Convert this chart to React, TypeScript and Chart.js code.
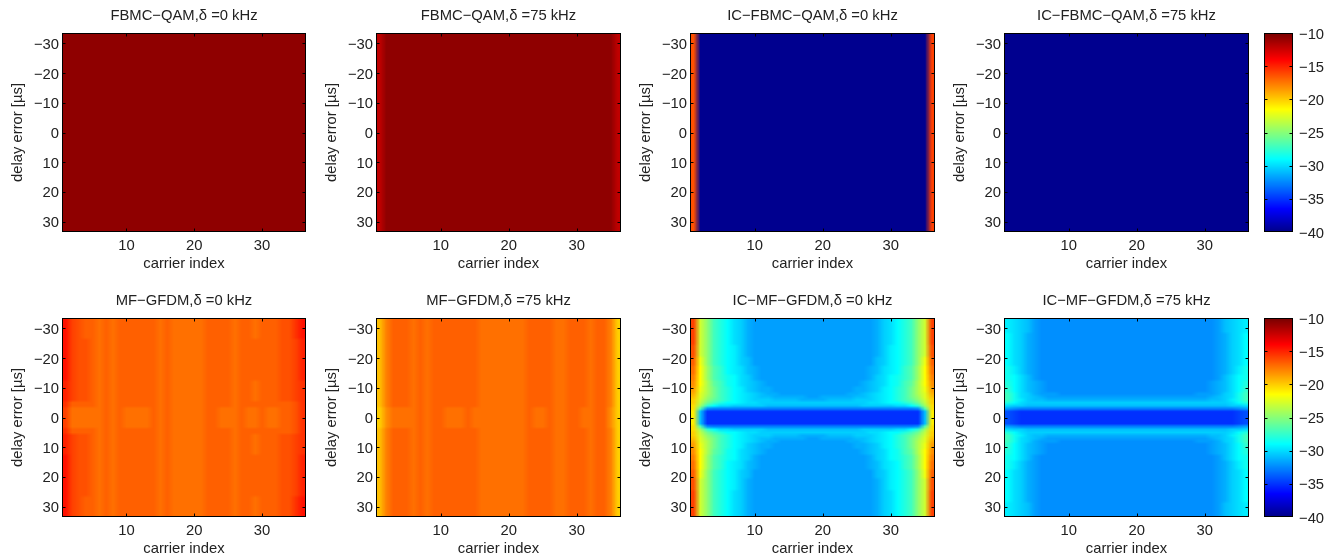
import React, { useEffect, useRef } from "react";
import { Chart, registerables } from "chart.js";

Chart.register(...registerables);

const CARRIERS = Array.from({ length: 36 }, (_, i) => i + 1);
const DELAYS = Array.from({ length: 67 }, (_, i) => i - 33);
const COLOR_LEVELS = Array.from({ length: 64 }, (_, i) => -40 + (i + 0.5) * (30 / 64));

// Each *_BANDS list: a row of the matching table applies to |delay| <= band and > next band.
const BANDS_ALL = [33];
const MF_BANDS = [33, 26, 12, 5, 3];
const IC_BANDS = [33, 28, 24, 20, 17, 14, 12, 10, 8, 7, 6, 5, 4, 3, 2];

const FBMC_0 = [
  [-10.7,-10.7,-10.7,-10.7,-10.7,-10.7,-10.7,-10.7,-10.7,-10.7,-10.7,-10.7,-10.7,-10.7,-10.7,-10.7,-10.7,-10.7,-10.7,-10.7,-10.7,-10.7,-10.7,-10.7,-10.7,-10.7,-10.7,-10.7,-10.7,-10.7,-10.7,-10.7,-10.7,-10.7,-10.7,-10.7],
];
const FBMC_75 = [
  [-12,-10.7,-10.7,-10.7,-10.7,-10.7,-10.7,-10.7,-10.7,-10.7,-10.7,-10.7,-10.7,-10.7,-10.7,-10.7,-10.7,-10.7,-10.7,-10.7,-10.7,-10.7,-10.7,-10.7,-10.7,-10.7,-10.7,-10.7,-10.7,-10.7,-10.7,-10.7,-10.7,-10.7,-10.7,-12],
];
const IC_FBMC_0 = [
  [-16.3,-40,-40,-40,-40,-40,-40,-40,-40,-40,-40,-40,-40,-40,-40,-40,-40,-40,-40,-40,-40,-40,-40,-40,-40,-40,-40,-40,-40,-40,-40,-40,-40,-40,-40,-15.9],
];
const IC_FBMC_75 = [
  [-40,-40,-40,-40,-40,-40,-40,-40,-40,-40,-40,-40,-40,-40,-40,-40,-40,-40,-40,-40,-40,-40,-40,-40,-40,-40,-40,-40,-40,-40,-40,-40,-40,-40,-40,-40],
];
const MF_0 = [
  [-14.3,-15.7,-16.3,-16.6,-16.8,-17.3,-16.8,-17.2,-16.7,-16.7,-16.9,-16.7,-16.7,-16.9,-17.4,-16.9,-17.1,-17.3,-17.4,-17.3,-17.2,-16.9,-16.7,-16.7,-16.9,-17.3,-16.8,-16.7,-17.2,-16.8,-16.7,-16.6,-16.4,-16.3,-15.6,-14.3],
  [-14.6,-15.8,-16.2,-16.5,-16.8,-17.3,-16.8,-17.2,-16.7,-16.7,-16.9,-16.7,-16.7,-16.9,-17.4,-16.9,-17.1,-17.3,-17.4,-17.3,-17.2,-16.9,-16.7,-16.7,-16.9,-17.3,-16.8,-16.7,-16.9,-16.8,-16.7,-16.6,-16.5,-16.3,-15.9,-14.9],
  [-15,-16,-16.2,-16.4,-16.8,-17.3,-16.8,-17.2,-16.7,-16.7,-16.9,-16.7,-16.7,-16.9,-17.4,-16.9,-17.1,-17.3,-17.4,-17.3,-17.2,-16.9,-16.7,-16.7,-16.9,-17.3,-16.8,-16.7,-17.2,-16.8,-16.7,-16.6,-16.3,-16.2,-16,-15.2],
  [-15.6,-16.7,-16.8,-16.8,-16.8,-17.3,-16.8,-17.2,-16.7,-16.8,-16.9,-16.8,-16.8,-16.9,-17.4,-16.9,-17.1,-17.3,-17.4,-17.3,-17.2,-16.9,-16.8,-16.8,-16.9,-17.3,-16.8,-16.8,-16.9,-16.8,-16.8,-16.8,-16.7,-16.7,-16.4,-15.6],
  [-16,-17.3,-17.3,-17.3,-17.3,-17.4,-16.9,-17.3,-16.9,-17.3,-17.3,-17.3,-17.3,-16.9,-17.4,-16.9,-17.3,-17.4,-17.4,-17.3,-17.2,-16.9,-16.9,-17.3,-17.3,-17.3,-16.9,-17.3,-17.3,-16.9,-17.3,-17.3,-16.9,-16.8,-16.3,-15.5],
];
const MF_75 = [
  [-19.8,-17.6,-16.7,-16.7,-16.8,-17.3,-16.8,-17.2,-16.7,-16.7,-16.8,-16.9,-16.8,-16.8,-16.9,-17.3,-17.1,-17.3,-17.4,-17.4,-17.3,-17.2,-16.9,-16.8,-16.7,-16.8,-17.2,-17.2,-16.8,-16.7,-16.9,-17.2,-16.8,-16.8,-17.8,-20],
  [-19.8,-17.6,-16.7,-16.7,-16.8,-17.3,-16.8,-17.2,-16.7,-16.7,-16.8,-16.9,-16.8,-16.8,-16.9,-17.3,-17.1,-17.3,-17.4,-17.4,-17.3,-17.2,-16.9,-16.8,-16.7,-16.8,-17.2,-17.2,-16.8,-16.7,-16.9,-17.2,-16.8,-16.8,-17.8,-20],
  [-19.8,-17.6,-16.7,-16.7,-16.8,-17.3,-16.8,-17.2,-16.7,-16.7,-16.8,-16.9,-16.8,-16.8,-16.9,-17.3,-17.1,-17.3,-17.4,-17.4,-17.3,-17.2,-16.9,-16.8,-16.7,-16.8,-17.2,-17.2,-16.8,-16.7,-16.9,-17.2,-16.8,-16.8,-17.8,-20],
  [-19.8,-17.8,-16.9,-16.9,-16.9,-17.3,-16.8,-17.2,-16.8,-16.8,-16.8,-16.9,-16.8,-16.8,-16.9,-17.3,-17.1,-17.3,-17.4,-17.4,-17.3,-17.2,-16.9,-16.8,-16.8,-16.8,-17.2,-17.2,-16.8,-16.8,-16.9,-17.2,-16.8,-16.8,-17.8,-20],
  [-20.2,-18,-17.3,-17.3,-17.3,-17.4,-16.9,-17.2,-16.8,-16.9,-17.3,-17.3,-17.3,-16.9,-17.1,-17.3,-17.3,-17.3,-17.4,-17.4,-17.3,-17.2,-16.9,-17.3,-17.3,-16.9,-17.2,-17.2,-16.9,-16.9,-17.3,-17.3,-16.9,-16.9,-18,-20.2],
];
const IC_MF_0_HALF = [
  [-15.8,-23,-25,-27,-28,-29,-29.7,-30.5,-31.3,-31.7,-31.9,-32,-32,-32,-32,-32,-32,-32],
  [-16,-23,-25,-27,-28,-29,-29.7,-30.6,-31.4,-31.8,-32,-32,-32,-32,-32,-32,-32,-32],
  [-16.3,-22.8,-25,-27,-28,-29,-29.6,-30.5,-31.3,-31.8,-32,-32,-32,-32,-32,-32,-32,-32],
  [-16.8,-22,-24.6,-27,-28,-28.9,-29.4,-30.2,-31,-31.6,-31.9,-32,-32,-32,-32,-32,-32,-32],
  [-17.2,-21.6,-24.3,-26.8,-27.8,-28.8,-29.3,-30,-30.8,-31.4,-31.8,-32,-32,-32,-32,-32,-32,-32],
  [-17.8,-21.5,-24.2,-26.5,-27.6,-28.6,-29.2,-29.9,-30.6,-31.2,-31.6,-31.9,-32,-32,-32,-32,-32,-32],
  [-18.2,-21.7,-24,-26.2,-27.3,-28.3,-29.1,-29.8,-30.4,-31,-31.4,-31.7,-31.9,-32,-32,-32,-32,-32],
  [-18.8,-22,-23.8,-25.7,-27,-28,-29,-29.6,-30.2,-30.8,-31.2,-31.5,-31.7,-31.8,-31.9,-32,-32,-32],
  [-19.3,-22.2,-24,-25.6,-26.9,-27.9,-28.9,-29.5,-30.1,-30.6,-31,-31.3,-31.5,-31.6,-31.7,-31.8,-31.8,-31.9],
  [-19.6,-22.5,-24.2,-25.7,-26.9,-27.9,-28.8,-29.4,-30,-30.4,-30.7,-31,-31.2,-31.3,-31.4,-31.5,-31.5,-31.6],
  [-20,-23,-24.6,-26,-27.2,-28.2,-29,-29.5,-29.9,-30.2,-30.4,-30.6,-30.8,-30.9,-31,-31,-31.1,-31.1],
  [-20.3,-23.5,-25.5,-27,-28,-28.8,-29.2,-29.5,-29.8,-30,-30.2,-30.3,-30.4,-30.4,-30.5,-30.5,-30.5,-30.5],
  [-20.5,-24.5,-27.8,-29,-29.7,-30,-30.2,-30.4,-30.5,-30.6,-30.6,-30.7,-30.7,-30.7,-30.7,-30.7,-30.7,-30.7],
  [-20.6,-26.5,-32.4,-32.6,-32.7,-32.8,-32.8,-32.8,-32.8,-32.8,-32.8,-32.8,-32.8,-32.8,-32.8,-32.8,-32.8,-32.8],
  [-20.8,-31,-35,-35.1,-35.1,-35.1,-35.1,-35.1,-35.1,-35.1,-35.1,-35.1,-35.1,-35.1,-35.1,-35.1,-35.1,-35.1],
];
const IC_MF_75_HALF = [
  [-29.3,-29.8,-30.4,-31,-31.6,-32.1,-32.3,-32.4,-32.4,-32.4,-32.4,-32.4,-32.4,-32.4,-32.4,-32.4,-32.4,-32.4],
  [-29.2,-29.8,-30.5,-31.2,-31.9,-32.2,-32.4,-32.4,-32.4,-32.4,-32.4,-32.4,-32.4,-32.4,-32.4,-32.4,-32.4,-32.4],
  [-29.1,-29.7,-30.5,-31.3,-32,-32.3,-32.4,-32.4,-32.4,-32.4,-32.4,-32.4,-32.4,-32.4,-32.4,-32.4,-32.4,-32.4],
  [-28.9,-29.7,-30.4,-31.3,-32,-32.3,-32.4,-32.4,-32.4,-32.4,-32.4,-32.4,-32.4,-32.4,-32.4,-32.4,-32.4,-32.4],
  [-28.6,-29.4,-30.2,-31.1,-31.9,-32.2,-32.4,-32.4,-32.4,-32.4,-32.4,-32.4,-32.4,-32.4,-32.4,-32.4,-32.4,-32.4],
  [-28.3,-29.2,-30.1,-30.9,-31.7,-32.1,-32.3,-32.4,-32.4,-32.4,-32.4,-32.4,-32.4,-32.4,-32.4,-32.4,-32.4,-32.4],
  [-28,-29,-30,-30.8,-31.5,-32,-32.2,-32.3,-32.4,-32.4,-32.4,-32.4,-32.4,-32.4,-32.4,-32.4,-32.4,-32.4],
  [-27.7,-28.8,-29.9,-30.7,-31.4,-31.9,-32.1,-32.2,-32.3,-32.3,-32.3,-32.3,-32.3,-32.3,-32.3,-32.3,-32.3,-32.3],
  [-27.3,-28.7,-29.8,-30.6,-31.2,-31.6,-31.8,-32,-32.1,-32.1,-32.2,-32.2,-32.2,-32.2,-32.2,-32.2,-32.2,-32.2],
  [-27.2,-28.6,-29.7,-30.5,-31,-31.4,-31.6,-31.7,-31.8,-31.8,-31.8,-31.9,-31.9,-31.9,-31.9,-31.9,-31.9,-31.9],
  [-27.3,-28.6,-29.6,-30.3,-30.7,-31,-31.1,-31.2,-31.2,-31.3,-31.3,-31.3,-31.3,-31.3,-31.3,-31.3,-31.3,-31.3],
  [-28,-29,-29.8,-30.2,-30.4,-30.5,-30.6,-30.6,-30.6,-30.6,-30.6,-30.6,-30.6,-30.6,-30.6,-30.6,-30.6,-30.6],
  [-30,-30.4,-30.6,-30.7,-30.8,-30.8,-30.9,-30.9,-30.9,-30.9,-30.9,-30.9,-30.9,-30.9,-30.9,-30.9,-30.9,-30.9],
  [-32,-32.4,-32.6,-32.7,-32.7,-32.8,-32.8,-32.8,-32.8,-32.8,-32.8,-32.8,-32.8,-32.8,-32.8,-32.8,-32.8,-32.8],
  [-34.2,-34.8,-35,-35.1,-35.1,-35.1,-35.1,-35.1,-35.1,-35.1,-35.1,-35.1,-35.1,-35.1,-35.1,-35.1,-35.1,-35.1],
];

const mirrorCarriers = (rows: number[][]) => rows.map((r) => [...r, ...[...r].reverse()]);

const PANELS = [
  { title: "FBMC\u2212QAM,\u03b4 =0 kHz", bands: BANDS_ALL, rows: FBMC_0, left: 62, width: 244, row: 0 },
  { title: "FBMC\u2212QAM,\u03b4 =75 kHz", bands: BANDS_ALL, rows: FBMC_75, left: 376, width: 245, row: 0 },
  { title: "IC\u2212FBMC\u2212QAM,\u03b4 =0 kHz", bands: BANDS_ALL, rows: IC_FBMC_0, left: 690, width: 245, row: 0 },
  { title: "IC\u2212FBMC\u2212QAM,\u03b4 =75 kHz", bands: BANDS_ALL, rows: IC_FBMC_75, left: 1004, width: 245, row: 0 },
  { title: "MF\u2212GFDM,\u03b4 =0 kHz", bands: MF_BANDS, rows: MF_0, left: 62, width: 244, row: 1 },
  { title: "MF\u2212GFDM,\u03b4 =75 kHz", bands: MF_BANDS, rows: MF_75, left: 376, width: 245, row: 1 },
  { title: "IC\u2212MF\u2212GFDM,\u03b4 =0 kHz", bands: IC_BANDS, rows: mirrorCarriers(IC_MF_0_HALF), left: 690, width: 245, row: 1 },
  { title: "IC\u2212MF\u2212GFDM,\u03b4 =75 kHz", bands: IC_BANDS, rows: mirrorCarriers(IC_MF_75_HALF), left: 1004, width: 245, row: 1 },
];

const ROW_TOPS = [0, 285];
const FONT = "'Liberation Sans', Arial, sans-serif";
const FONT_SIZE = 14.8;
const AXIS_LEFT = 62;
const AXIS_BOTTOM = 41;
const PLOT_TOP = 33;
const CANVAS_H = 273;
const Y_LABEL_NUDGE = 1.5;

function jet(v: number): [number, number, number] {
  const I = Math.max(0, Math.min(63, Math.floor(((v + 40) / 30) * 64))) + 1;
  const r = I <= 24 ? 0 : I <= 40 ? (I - 24) / 16 : I <= 56 ? 1 : 1 - (I - 56) / 16;
  const g = I <= 8 ? 0 : I <= 24 ? (I - 8) / 16 : I <= 40 ? 1 : I <= 56 ? (56 - I) / 16 : 0;
  const b = I <= 8 ? 0.5 + I / 16 : I <= 24 ? 1 : I <= 40 ? (40 - I) / 16 : 0;
  return [Math.round(r * 255), Math.round(g * 255), Math.round(b * 255)];
}

function bandRow(bands: number[], delay: number) {
  const d = Math.abs(delay);
  let idx = 0;
  bands.forEach((b, i) => {
    if (d <= b) idx = i;
  });
  return idx;
}

function cells(bands: number[], rows: number[][]) {
  const out: { x: number; y: number; v: number }[] = [];
  DELAYS.forEach((y) => {
    const row = rows[bandRow(bands, y)];
    CARRIERS.forEach((x, c) => out.push({ x, y, v: row[c] }));
  });
  return out;
}

function paintImage(chart: any, nx: number, ny: number, pts: any[], xOf: (p: any) => number, yOf: (p: any) => number, x0: number, x1: number, y0: number, y1: number) {
  const off = document.createElement("canvas");
  off.width = nx;
  off.height = ny;
  const octx = off.getContext("2d")!;
  const img = octx.createImageData(nx, ny);
  pts.forEach((p) => {
    const k = (yOf(p) * nx + xOf(p)) * 4;
    const [r, g, b] = jet(p.v);
    img.data[k] = r;
    img.data[k + 1] = g;
    img.data[k + 2] = b;
    img.data[k + 3] = 255;
  });
  octx.putImageData(img, 0, 0);
  const ctx = chart.ctx;
  ctx.save();
  ctx.imageSmoothingEnabled = true;
  ctx.imageSmoothingQuality = "low";
  ctx.drawImage(off, x0, y0, x1 - x0, y1 - y0);
  ctx.restore();
}

const heatPlugin = {
  id: "heat",
  beforeDatasetsDraw(chart: any) {
    const { x, y } = chart.scales;
    paintImage(
      chart, CARRIERS.length, DELAYS.length, chart.data.datasets[0].data,
      (p) => p.x - 1, (p) => p.y + 33,
      x.getPixelForValue(0.5), x.getPixelForValue(36.5),
      y.getPixelForValue(-33.5), y.getPixelForValue(33.5),
    );
  },
};

const colorbarPlugin = {
  id: "colorbarImage",
  beforeDatasetsDraw(chart: any) {
    const { y } = chart.scales;
    const a = chart.chartArea;
    const pts = chart.data.datasets[0].data;
    paintImage(chart, 1, pts.length, pts, () => 0, (p) => pts.length - 1 - p.i, a.left, a.right, y.getPixelForValue(-10), y.getPixelForValue(-40));
  },
};

const framePlugin = {
  id: "frame",
  beforeDraw(chart: any) {
    // Centre the y tick labels on their tick marks.
    const y = chart.scales.y;
    y.getLabelItems().forEach((item: any) => {
      if (!item.nudged) {
        item.options.translation[1] += Y_LABEL_NUDGE;
        item.nudged = true;
      }
    });
  },
  afterDatasetsDraw(chart: any, _args: any, opts: any) {
    const ctx = chart.ctx;
    const a = chart.chartArea;
    const L = a.left + 0.5;
    const R = a.right - 0.5;
    const T = a.top + 0.5;
    const B = a.bottom - 0.5;
    const len = 3;
    ctx.save();
    ctx.strokeStyle = "#000";
    ctx.lineWidth = 1;
    ctx.beginPath();
    const y = chart.scales.y;
    y.ticks.forEach((t: any) => {
      const p = Math.round(y.getPixelForValue(t.value)) + 0.5;
      if (p <= T || p >= B) return;
      ctx.moveTo(L, p);
      ctx.lineTo(L + len, p);
      ctx.moveTo(R, p);
      ctx.lineTo(R - len, p);
    });
    if (!opts.noX) {
      const x = chart.scales.x;
      x.ticks.forEach((t: any) => {
        const p = Math.round(x.getPixelForValue(t.value)) + 0.5;
        ctx.moveTo(p, T);
        ctx.lineTo(p, T + len);
        ctx.moveTo(p, B);
        ctx.lineTo(p, B - len);
      });
    }
    ctx.stroke();
    ctx.strokeRect(L, T, R - L, B - T);
    ctx.restore();
  },
};

const minus = (v: any) => String(v).replace("-", "\u2212");
const tickFont = { family: FONT, size: FONT_SIZE, lineHeight: 1.2 };
const noGrid = { display: false, drawTicks: false };

function panelConfig(p: (typeof PANELS)[number]): any {
  return {
    type: "scatter",
    data: {
      datasets: [{ data: cells(p.bands, p.rows), pointRadius: 0, pointHoverRadius: 0, showLine: false }],
    },
    plugins: [heatPlugin, framePlugin],
    options: {
      animation: false,
      responsive: false,
      events: [],
      layout: { padding: { left: 0, right: 2, top: 0, bottom: 0 } },
      plugins: {
        legend: { display: false },
        tooltip: { enabled: false },
        title: {
          display: true,
          text: p.title,
          color: "#222",
          fullSize: false,
          font: { family: FONT, size: FONT_SIZE, weight: "normal", lineHeight: 1.2 },
          padding: { top: 7, bottom: PLOT_TOP - 7 - FONT_SIZE * 1.2 },
        },
        frame: {},
      },
      scales: {
        x: {
          type: "linear",
          min: 0.5,
          max: 36.5,
          grid: noGrid,
          border: { display: false },
          ticks: { stepSize: 10, includeBounds: false, color: "#222", font: tickFont, padding: 5, maxRotation: 0, autoSkip: false },
          title: { display: true, text: "carrier index", color: "#222", font: tickFont, padding: 0 },
          afterFit: (s: any) => { s.height = AXIS_BOTTOM; },
        },
        y: {
          type: "linear",
          reverse: true,
          min: -33.5,
          max: 33.5,
          grid: noGrid,
          border: { display: false },
          ticks: { stepSize: 10, includeBounds: false, color: "#222", font: tickFont, padding: 3, autoSkip: false, callback: minus },
          title: { display: true, text: "delay error [\u00b5s]", color: "#222", font: tickFont, padding: { top: 9, bottom: 0 } },
          afterFit: (s: any) => { s.width = AXIS_LEFT; },
        },
      },
    },
  };
}

function colorbarConfig(): any {
  return {
    type: "scatter",
    data: {
      datasets: [{ data: COLOR_LEVELS.map((v, i) => ({ x: 0, y: v, v, i })), pointRadius: 0, pointHoverRadius: 0, showLine: false }],
    },
    plugins: [colorbarPlugin, framePlugin],
    options: {
      animation: false,
      responsive: false,
      events: [],
      layout: { padding: { left: 0, right: 0, top: PLOT_TOP, bottom: AXIS_BOTTOM } },
      plugins: { legend: { display: false }, tooltip: { enabled: false }, title: { display: false }, frame: { noX: true } },
      scales: {
        x: { type: "linear", display: false, min: -1, max: 1 },
        y: {
          type: "linear",
          position: "right",
          min: -40,
          max: -10,
          grid: noGrid,
          border: { display: false },
          ticks: { stepSize: 5, color: "#222", font: tickFont, padding: 6, autoSkip: false, callback: minus },
          afterFit: (s: any) => { s.width = 47; },
        },
      },
    },
  };
}

function ChartCanvas({ config, left, top, width, height }: { config: () => any; left: number; top: number; width: number; height: number }) {
  const ref = useRef<HTMLCanvasElement>(null);
  useEffect(() => {
    const chart = new Chart(ref.current!, config());
    return () => chart.destroy();
  }, []);
  return <canvas ref={ref} width={width} height={height} style={{ position: "absolute", left, top, width, height }} />;
}

export default function App() {
  return (
    <div style={{ position: "absolute", left: 0, top: 0, width: 1340, height: 559, overflow: "hidden", background: "#fff" }}>
      {PANELS.map((p) => (
        <ChartCanvas
          key={p.title}
          config={() => panelConfig(p)}
          left={p.left - AXIS_LEFT}
          top={ROW_TOPS[p.row]}
          width={AXIS_LEFT + p.width + 2}
          height={CANVAS_H}
        />
      ))}
      {ROW_TOPS.map((t) => (
        <ChartCanvas key={t} config={colorbarConfig} left={1264} top={t} width={76} height={CANVAS_H} />
      ))}
    </div>
  );
}
